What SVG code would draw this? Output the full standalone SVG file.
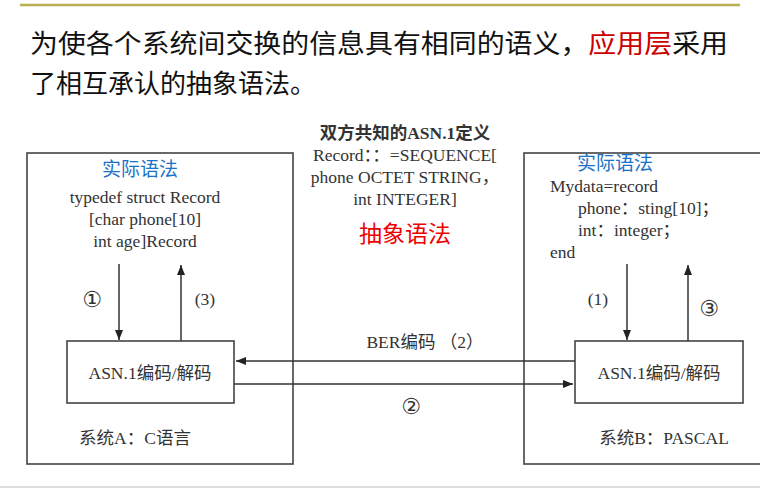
<svg xmlns="http://www.w3.org/2000/svg" width="760" height="490" viewBox="0 0 760 490">
<defs>
<marker id="ah" markerWidth="10" markerHeight="8" refX="10" refY="4" orient="auto" markerUnits="userSpaceOnUse"><path d="M0,0 L10,4 L0,8 z" fill="#222"/></marker>
<style>
.t{font-family:"Liberation Serif","Noto Sans CJK SC",serif;fill:#333;font-size:17.5px}
.n{font-family:"DejaVu Sans",sans-serif;fill:#333;font-size:22px}
.b{fill:none;stroke:#444;stroke-width:1.6}
.c{stroke:#333;stroke-width:1.5;fill:none}
.blue{font-family:"Noto Sans CJK SC",sans-serif;fill:#1a73c8;font-size:19px}
</style>
</defs>
<rect width="760" height="490" fill="#fff"/>
<line x1="20" y1="5" x2="740" y2="5" stroke="#b8b050" stroke-width="2.5"/>
<line x1="0" y1="487" x2="760" y2="487" stroke="#ddd" stroke-width="2"/>
<text x="30" y="53" style="font-family:'Noto Sans CJK SC',sans-serif;font-size:26px;fill:#111" textLength="698" lengthAdjust="spacingAndGlyphs">为使各个系统间交换的信息具有相同的语义，<tspan fill="#c00">应用层</tspan>采用</text>
<text x="30" y="93" style="font-family:'Noto Sans CJK SC',sans-serif;font-size:26px;fill:#111">了相互承认的抽象语法。</text>
<g id="center">
<text class="t" x="405" y="139" text-anchor="middle" font-weight="bold">双方共知的ASN.1定义</text>
<text class="t" x="405" y="161" text-anchor="middle">Record：：=SEQUENCE[</text>
<text class="t" x="405" y="183" text-anchor="middle">phone OCTET STRING，</text>
<text class="t" x="405" y="205" text-anchor="middle">int INTEGER]</text>
<text x="405" y="242" text-anchor="middle" style="font-family:'Noto Sans CJK SC',sans-serif;font-size:23px;fill:#e00">抽象语法</text>
</g>
<g id="systemA">
<rect class="b" x="27" y="153" width="266" height="311"/>
<text class="blue" x="140" y="176" text-anchor="middle">实际语法</text>
<text class="t" x="145" y="203" text-anchor="middle">typedef  struct Record</text>
<text class="t" x="145" y="225" text-anchor="middle">[char phone[10]</text>
<text class="t" x="145" y="247" text-anchor="middle">int age]Record</text>
<text class="n" x="92" y="307" text-anchor="middle">①</text>
<text class="t" x="205" y="305" text-anchor="middle">(3)</text>
<text class="t" x="135" y="444" text-anchor="middle">系统A：C语言</text>
</g>
<g id="codecA">
<rect class="b" x="67" y="341" width="167" height="62"/>
<text class="t" x="150" y="379" text-anchor="middle">ASN.1编码/解码</text>
</g>
<g id="systemB">
<rect class="b" x="524" y="153" width="240" height="311"/>
<text class="blue" x="615" y="170" text-anchor="middle">实际语法</text>
<text class="t" x="550" y="192">Mydata=record</text>
<text class="t" x="578" y="214">phone：sting[10]；</text>
<text class="t" x="578" y="236">int：integer；</text>
<text class="t" x="550" y="258">end</text>
<text class="t" x="598" y="305" text-anchor="middle">(1)</text>
<text class="n" x="709" y="316" text-anchor="middle">③</text>
<text class="t" x="664" y="444" text-anchor="middle">系统B：PASCAL</text>
</g>
<g id="codecB">
<rect class="b" x="575" y="341" width="168" height="62"/>
<text class="t" x="659" y="379" text-anchor="middle">ASN.1编码/解码</text>
</g>
<g id="connectors">
<line class="c" x1="119" y1="264" x2="119" y2="340" marker-end="url(#ah)"/>
<line class="c" x1="181" y1="341" x2="181" y2="265" marker-end="url(#ah)"/>
<line class="c" x1="627" y1="264" x2="627" y2="340" marker-end="url(#ah)"/>
<line class="c" x1="688" y1="341" x2="688" y2="265" marker-end="url(#ah)"/>
<line class="c" x1="575" y1="361" x2="236" y2="361" marker-end="url(#ah)"/>
<line class="c" x1="234" y1="384" x2="573" y2="384" marker-end="url(#ah)"/>
<text class="t" x="425" y="348" text-anchor="middle">BER编码  （2）</text>
<text class="n" x="411" y="414" text-anchor="middle">②</text>
</g>
</svg>
